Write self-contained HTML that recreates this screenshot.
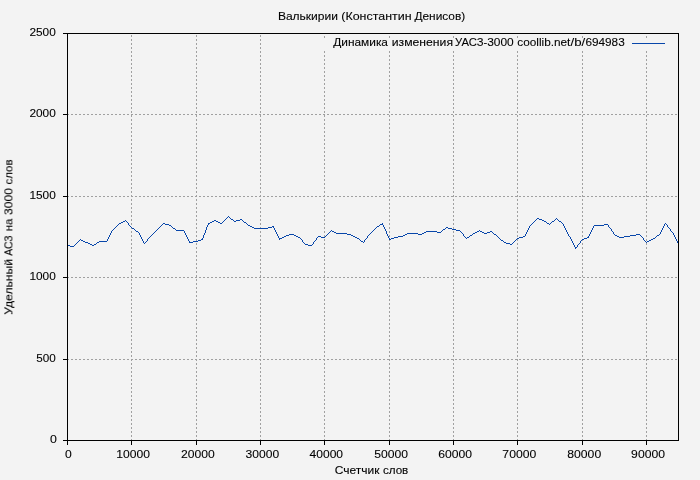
<!DOCTYPE html>
<html lang="ru">
<head>
<meta charset="utf-8">
<title>Валькирии (Константин Денисов)</title>
<style>
html,body{margin:0;padding:0;background:#f3f3f3;}
body{width:700px;height:480px;overflow:hidden;will-change:transform;}
svg{display:block;}
text{font-family:"Liberation Sans",sans-serif;font-size:11.4px;fill:#000;stroke:#000;stroke-width:.1px;}
g.t{filter:grayscale(1);}
text.d{font-size:11.1px;}
</style>
</head>
<body>
<svg width="700" height="480" viewBox="0 0 700 480">
<rect x="0" y="0" width="700" height="480" fill="#f3f3f3"/>
<g shape-rendering="crispEdges" stroke="#a0a0a0" stroke-width="1" stroke-dasharray="2 2" fill="none">
<line x1="131.5" y1="441" x2="131.5" y2="34"/>
<line x1="196.5" y1="441" x2="196.5" y2="34"/>
<line x1="260.5" y1="441" x2="260.5" y2="34"/>
<line x1="324.5" y1="441" x2="324.5" y2="34"/>
<line x1="389.5" y1="441" x2="389.5" y2="34"/>
<line x1="453.5" y1="441" x2="453.5" y2="34"/>
<line x1="517.5" y1="441" x2="517.5" y2="34"/>
<line x1="582.5" y1="441" x2="582.5" y2="34"/>
<line x1="646.5" y1="441" x2="646.5" y2="34"/>
<line x1="67" y1="359.5" x2="678" y2="359.5"/>
<line x1="67" y1="277.5" x2="678" y2="277.5"/>
<line x1="67" y1="196.5" x2="678" y2="196.5"/>
<line x1="67" y1="114.5" x2="678" y2="114.5"/>
</g>
<rect x="300" y="34" width="376" height="17" fill="#f3f3f3"/>
<path shape-rendering="crispEdges" fill="#a0a0a0" d="M324 36h1v2h-1zM389 36h1v2h-1zM453 36h1v2h-1zM517 36h1v2h-1zM582 36h1v2h-1zM646 36h1v2h-1z"/>
<path fill="#0846aa" shape-rendering="crispEdges" d="M228 216h1v1h-1zM227 217h1v1h-1zM229 217h1v1h-1zM226 218h1v1h-1zM230 218h1v1h-1zM537 218h2v1h-2zM556 218h1v1h-1zM225 219h1v1h-1zM231 219h2v1h-2zM240 219h2v1h-2zM536 219h1v1h-1zM539 219h3v1h-3zM555 219h1v1h-1zM557 219h1v1h-1zM125 220h1v1h-1zM214 220h2v1h-2zM224 220h1v1h-1zM233 220h1v1h-1zM236 220h4v1h-4zM242 220h1v1h-1zM535 220h1v1h-1zM542 220h2v1h-2zM554 220h1v1h-1zM558 220h1v1h-1zM123 221h2v1h-2zM126 221h1v1h-1zM212 221h2v1h-2zM216 221h2v1h-2zM223 221h1v1h-1zM234 221h2v1h-2zM243 221h1v1h-1zM534 221h1v1h-1zM544 221h2v1h-2zM552 221h2v1h-2zM559 221h2v1h-2zM121 222h2v1h-2zM127 222h1v1h-1zM210 222h2v1h-2zM218 222h2v1h-2zM222 222h1v1h-1zM244 222h2v1h-2zM533 222h1v1h-1zM546 222h1v1h-1zM551 222h1v1h-1zM561 222h1v1h-1zM119 223h2v1h-2zM128 223h1v1h-1zM163 223h2v1h-2zM208 223h2v1h-2zM220 223h2v1h-2zM246 223h1v1h-1zM382 223h1v1h-1zM532 223h1v1h-1zM547 223h2v1h-2zM550 223h1v1h-1zM562 223h1v1h-1zM665 223h1v1h-1zM118 224h1v1h-1zM128 224h1v1h-1zM162 224h1v1h-1zM165 224h4v1h-4zM208 224h1v1h-1zM247 224h1v1h-1zM380 224h3v1h-3zM531 224h1v1h-1zM549 224h1v1h-1zM563 224h1v1h-1zM604 224h4v1h-4zM664 224h1v1h-1zM666 224h1v1h-1zM117 225h1v1h-1zM129 225h1v1h-1zM161 225h1v1h-1zM169 225h2v1h-2zM207 225h1v1h-1zM248 225h2v1h-2zM379 225h1v1h-1zM383 225h1v1h-1zM530 225h1v1h-1zM563 225h1v1h-1zM594 225h10v1h-10zM608 225h1v1h-1zM664 225h1v1h-1zM667 225h1v1h-1zM116 226h1v1h-1zM130 226h1v1h-1zM160 226h1v1h-1zM171 226h1v1h-1zM207 226h1v1h-1zM250 226h2v1h-2zM272 226h2v1h-2zM377 226h2v1h-2zM383 226h1v1h-1zM529 226h1v1h-1zM564 226h1v1h-1zM593 226h1v1h-1zM608 226h1v1h-1zM663 226h1v1h-1zM667 226h1v1h-1zM115 227h1v1h-1zM131 227h1v1h-1zM159 227h1v1h-1zM172 227h1v1h-1zM206 227h1v1h-1zM252 227h2v1h-2zM268 227h4v1h-4zM273 227h1v1h-1zM376 227h1v1h-1zM384 227h1v1h-1zM446 227h2v1h-2zM529 227h1v1h-1zM564 227h1v1h-1zM593 227h1v1h-1zM609 227h1v1h-1zM663 227h1v1h-1zM668 227h1v1h-1zM114 228h1v1h-1zM132 228h2v1h-2zM158 228h1v1h-1zM173 228h2v1h-2zM206 228h1v1h-1zM254 228h14v1h-14zM274 228h1v1h-1zM375 228h1v1h-1zM384 228h1v1h-1zM445 228h1v1h-1zM448 228h4v1h-4zM528 228h1v1h-1zM565 228h1v1h-1zM592 228h1v1h-1zM610 228h1v1h-1zM662 228h1v1h-1zM669 228h1v1h-1zM113 229h1v1h-1zM134 229h1v1h-1zM157 229h1v1h-1zM175 229h1v1h-1zM206 229h1v1h-1zM274 229h1v1h-1zM374 229h1v1h-1zM385 229h1v1h-1zM443 229h2v1h-2zM452 229h4v1h-4zM528 229h1v1h-1zM565 229h1v1h-1zM592 229h1v1h-1zM611 229h1v1h-1zM662 229h1v1h-1zM670 229h1v1h-1zM112 230h1v1h-1zM135 230h1v1h-1zM156 230h1v1h-1zM176 230h8v1h-8zM205 230h1v1h-1zM275 230h1v1h-1zM331 230h1v1h-1zM373 230h1v1h-1zM385 230h1v1h-1zM442 230h1v1h-1zM456 230h4v1h-4zM479 230h1v1h-1zM527 230h1v1h-1zM566 230h1v1h-1zM591 230h1v1h-1zM611 230h1v1h-1zM661 230h1v1h-1zM670 230h1v1h-1zM111 231h1v1h-1zM136 231h2v1h-2zM155 231h1v1h-1zM184 231h1v1h-1zM205 231h1v1h-1zM275 231h1v1h-1zM330 231h1v1h-1zM332 231h2v1h-2zM372 231h1v1h-1zM386 231h1v1h-1zM426 231h11v1h-11zM441 231h1v1h-1zM460 231h1v1h-1zM477 231h2v1h-2zM480 231h2v1h-2zM490 231h2v1h-2zM527 231h1v1h-1zM566 231h1v1h-1zM591 231h1v1h-1zM612 231h1v1h-1zM661 231h1v1h-1zM671 231h1v1h-1zM111 232h1v1h-1zM138 232h1v1h-1zM154 232h1v1h-1zM184 232h1v1h-1zM205 232h1v1h-1zM276 232h1v1h-1zM329 232h1v1h-1zM334 232h2v1h-2zM371 232h1v1h-1zM386 232h1v1h-1zM424 232h2v1h-2zM437 232h4v1h-4zM461 232h1v1h-1zM475 232h2v1h-2zM482 232h2v1h-2zM487 232h3v1h-3zM492 232h1v1h-1zM526 232h1v1h-1zM567 232h1v1h-1zM590 232h1v1h-1zM613 232h1v1h-1zM660 232h1v1h-1zM672 232h1v1h-1zM110 233h1v1h-1zM139 233h1v1h-1zM153 233h1v1h-1zM185 233h1v1h-1zM204 233h1v1h-1zM276 233h1v1h-1zM328 233h1v1h-1zM336 233h11v1h-11zM370 233h1v1h-1zM386 233h1v1h-1zM407 233h11v1h-11zM422 233h2v1h-2zM462 233h1v1h-1zM473 233h2v1h-2zM484 233h3v1h-3zM493 233h1v1h-1zM526 233h1v1h-1zM567 233h1v1h-1zM590 233h1v1h-1zM613 233h1v1h-1zM660 233h1v1h-1zM673 233h1v1h-1zM110 234h1v1h-1zM139 234h1v1h-1zM152 234h1v1h-1zM185 234h1v1h-1zM204 234h1v1h-1zM277 234h1v1h-1zM289 234h5v1h-5zM327 234h1v1h-1zM347 234h4v1h-4zM369 234h1v1h-1zM387 234h1v1h-1zM405 234h2v1h-2zM418 234h4v1h-4zM463 234h1v1h-1zM472 234h1v1h-1zM494 234h2v1h-2zM525 234h1v1h-1zM568 234h1v1h-1zM589 234h1v1h-1zM614 234h1v1h-1zM636 234h4v1h-4zM659 234h1v1h-1zM673 234h1v1h-1zM109 235h1v1h-1zM140 235h1v1h-1zM151 235h1v1h-1zM186 235h1v1h-1zM203 235h1v1h-1zM277 235h1v1h-1zM286 235h3v1h-3zM294 235h2v1h-2zM326 235h1v1h-1zM351 235h2v1h-2zM368 235h1v1h-1zM387 235h1v1h-1zM403 235h2v1h-2zM463 235h1v1h-1zM470 235h2v1h-2zM496 235h1v1h-1zM525 235h1v1h-1zM568 235h1v1h-1zM589 235h1v1h-1zM615 235h2v1h-2zM630 235h6v1h-6zM640 235h1v1h-1zM657 235h2v1h-2zM674 235h1v1h-1zM109 236h1v1h-1zM140 236h1v1h-1zM150 236h1v1h-1zM186 236h1v1h-1zM203 236h1v1h-1zM278 236h1v1h-1zM284 236h2v1h-2zM296 236h2v1h-2zM318 236h3v1h-3zM325 236h1v1h-1zM353 236h2v1h-2zM367 236h1v1h-1zM388 236h1v1h-1zM398 236h5v1h-5zM464 236h1v1h-1zM469 236h1v1h-1zM497 236h1v1h-1zM523 236h2v1h-2zM569 236h1v1h-1zM588 236h1v1h-1zM617 236h2v1h-2zM624 236h6v1h-6zM641 236h1v1h-1zM656 236h1v1h-1zM674 236h1v1h-1zM108 237h1v1h-1zM141 237h1v1h-1zM149 237h1v1h-1zM187 237h1v1h-1zM203 237h1v1h-1zM278 237h1v1h-1zM282 237h2v1h-2zM298 237h2v1h-2zM317 237h1v1h-1zM321 237h4v1h-4zM355 237h2v1h-2zM367 237h1v1h-1zM388 237h1v1h-1zM394 237h4v1h-4zM465 237h1v1h-1zM467 237h2v1h-2zM498 237h1v1h-1zM519 237h4v1h-4zM570 237h1v1h-1zM587 237h2v1h-2zM619 237h5v1h-5zM642 237h1v1h-1zM655 237h1v1h-1zM675 237h1v1h-1zM108 238h1v1h-1zM141 238h1v1h-1zM148 238h1v1h-1zM187 238h1v1h-1zM202 238h1v1h-1zM279 238h3v1h-3zM300 238h1v1h-1zM316 238h1v1h-1zM357 238h2v1h-2zM366 238h1v1h-1zM389 238h1v1h-1zM391 238h3v1h-3zM466 238h1v1h-1zM499 238h1v1h-1zM517 238h2v1h-2zM570 238h1v1h-1zM584 238h3v1h-3zM643 238h1v1h-1zM653 238h2v1h-2zM675 238h1v1h-1zM80 239h1v1h-1zM107 239h1v1h-1zM142 239h1v1h-1zM147 239h1v1h-1zM188 239h1v1h-1zM201 239h2v1h-2zM279 239h1v1h-1zM301 239h1v1h-1zM316 239h1v1h-1zM359 239h1v1h-1zM365 239h1v1h-1zM389 239h2v1h-2zM500 239h1v1h-1zM516 239h1v1h-1zM571 239h1v1h-1zM582 239h2v1h-2zM643 239h1v1h-1zM651 239h2v1h-2zM676 239h1v1h-1zM79 240h1v1h-1zM81 240h2v1h-2zM107 240h1v1h-1zM142 240h1v1h-1zM147 240h1v1h-1zM188 240h1v1h-1zM198 240h3v1h-3zM302 240h1v1h-1zM315 240h1v1h-1zM360 240h1v1h-1zM364 240h1v1h-1zM501 240h2v1h-2zM515 240h1v1h-1zM571 240h1v1h-1zM581 240h1v1h-1zM644 240h1v1h-1zM649 240h2v1h-2zM676 240h1v1h-1zM78 241h1v1h-1zM83 241h2v1h-2zM99 241h8v1h-8zM143 241h1v1h-1zM146 241h1v1h-1zM189 241h1v1h-1zM193 241h5v1h-5zM302 241h1v1h-1zM314 241h1v1h-1zM361 241h2v1h-2zM364 241h1v1h-1zM503 241h1v1h-1zM514 241h1v1h-1zM572 241h1v1h-1zM580 241h1v1h-1zM645 241h1v1h-1zM647 241h2v1h-2zM677 241h1v1h-1zM77 242h1v1h-1zM85 242h3v1h-3zM97 242h2v1h-2zM143 242h1v1h-1zM145 242h1v1h-1zM189 242h4v1h-4zM303 242h1v1h-1zM313 242h1v1h-1zM363 242h1v1h-1zM504 242h2v1h-2zM513 242h1v1h-1zM572 242h1v1h-1zM580 242h1v1h-1zM646 242h1v1h-1zM677 242h1v1h-1zM76 243h1v1h-1zM88 243h2v1h-2zM96 243h1v1h-1zM144 243h1v1h-1zM304 243h1v1h-1zM313 243h1v1h-1zM506 243h4v1h-4zM512 243h1v1h-1zM573 243h1v1h-1zM579 243h1v1h-1zM678 243h1v1h-1zM75 244h1v1h-1zM90 244h2v1h-2zM94 244h2v1h-2zM305 244h3v1h-3zM312 244h1v1h-1zM510 244h2v1h-2zM573 244h1v1h-1zM578 244h1v1h-1zM678 244h1v1h-1zM67 245h3v1h-3zM74 245h1v1h-1zM92 245h2v1h-2zM308 245h4v1h-4zM574 245h1v1h-1zM577 245h1v1h-1zM70 246h4v1h-4zM574 246h1v1h-1zM577 246h1v1h-1zM575 247h2v1h-2zM575 248h1v1h-1z"/>
<line x1="632" y1="43.5" x2="665" y2="43.5" stroke="#0846aa" stroke-width="1" shape-rendering="crispEdges"/>
<g shape-rendering="crispEdges" stroke="#000" stroke-width="1" fill="none">
<rect x="67.5" y="33.5" width="611" height="407"/>
<line x1="67.5" y1="441" x2="67.5" y2="445"/>
<line x1="131.5" y1="441" x2="131.5" y2="445"/>
<line x1="196.5" y1="441" x2="196.5" y2="445"/>
<line x1="260.5" y1="441" x2="260.5" y2="445"/>
<line x1="324.5" y1="441" x2="324.5" y2="445"/>
<line x1="389.5" y1="441" x2="389.5" y2="445"/>
<line x1="453.5" y1="441" x2="453.5" y2="445"/>
<line x1="517.5" y1="441" x2="517.5" y2="445"/>
<line x1="582.5" y1="441" x2="582.5" y2="445"/>
<line x1="646.5" y1="441" x2="646.5" y2="445"/>
<line x1="63" y1="440.5" x2="67" y2="440.5"/>
<line x1="63" y1="359.5" x2="67" y2="359.5"/>
<line x1="63" y1="277.5" x2="67" y2="277.5"/>
<line x1="63" y1="196.5" x2="67" y2="196.5"/>
<line x1="63" y1="114.5" x2="67" y2="114.5"/>
<line x1="63" y1="33.5" x2="67" y2="33.5"/>
</g>
<g class="t">
<text x="277.91" y="20.00" textLength="60.02" lengthAdjust="spacingAndGlyphs">Валькирии</text>
<text x="341.33" y="20.00" textLength="70.23" lengthAdjust="spacingAndGlyphs">(Константин</text>
<text x="414.41" y="20.00" textLength="50.83" lengthAdjust="spacingAndGlyphs">Денисов)</text>
<text x="333.21" y="46.00" textLength="54.79" lengthAdjust="spacingAndGlyphs">Динамика</text>
<text x="391.75" y="46.00" textLength="61.29" lengthAdjust="spacingAndGlyphs">изменения</text>
<text x="455.01" y="46.00" textLength="32.17" lengthAdjust="spacingAndGlyphs">УАСЗ-</text>
<text x="487.15" y="46.00" textLength="26.52" lengthAdjust="spacingAndGlyphs">3000</text>
<text x="517.30" y="46.00" textLength="53.09" lengthAdjust="spacingAndGlyphs">coollib.net</text>
<text x="570.60" y="46.00" textLength="14.70" lengthAdjust="spacingAndGlyphs">/b/</text>
<text x="585.40" y="46.00" textLength="39.32" lengthAdjust="spacingAndGlyphs">694983</text>
<text x="50.12" y="443.00" textLength="6.86" lengthAdjust="spacingAndGlyphs" class="d">0</text>
<text x="36.23" y="362.00" textLength="19.53" lengthAdjust="spacingAndGlyphs" class="d">500</text>
<text x="29.40" y="280.00" textLength="26.36" lengthAdjust="spacingAndGlyphs" class="d">1000</text>
<text x="29.40" y="199.00" textLength="26.36" lengthAdjust="spacingAndGlyphs" class="d">1500</text>
<text x="29.40" y="117.00" textLength="26.36" lengthAdjust="spacingAndGlyphs" class="d">2000</text>
<text x="29.40" y="36.00" textLength="26.36" lengthAdjust="spacingAndGlyphs" class="d">2500</text>
<text x="65.03" y="458.00" textLength="6.75" lengthAdjust="spacingAndGlyphs" class="d">0</text>
<text x="116.39" y="458.00" textLength="33.68" lengthAdjust="spacingAndGlyphs" class="d">10000</text>
<text x="181.09" y="458.00" textLength="33.68" lengthAdjust="spacingAndGlyphs" class="d">20000</text>
<text x="245.64" y="458.00" textLength="33.53" lengthAdjust="spacingAndGlyphs" class="d">30000</text>
<text x="309.62" y="458.00" textLength="33.45" lengthAdjust="spacingAndGlyphs" class="d">40000</text>
<text x="374.31" y="458.00" textLength="33.76" lengthAdjust="spacingAndGlyphs" class="d">50000</text>
<text x="438.28" y="458.00" textLength="33.79" lengthAdjust="spacingAndGlyphs" class="d">60000</text>
<text x="502.37" y="458.00" textLength="33.90" lengthAdjust="spacingAndGlyphs" class="d">70000</text>
<text x="567.27" y="458.00" textLength="33.91" lengthAdjust="spacingAndGlyphs" class="d">80000</text>
<text x="631.13" y="458.00" textLength="33.85" lengthAdjust="spacingAndGlyphs" class="d">90000</text>
<text x="334.80" y="474.00" textLength="44.64" lengthAdjust="spacingAndGlyphs">Счетчик</text>
<text x="382.90" y="474.00" textLength="25.41" lengthAdjust="spacingAndGlyphs">слов</text>
<g transform="translate(12.4,320.0) rotate(-90)">
<text x="5.18" y="0.00" textLength="55.94" lengthAdjust="spacingAndGlyphs">Удельный</text>
<text x="64.28" y="0.00" textLength="20.32" lengthAdjust="spacingAndGlyphs">АСЗ</text>
<text x="88.71" y="0.00" textLength="12.59" lengthAdjust="spacingAndGlyphs">на</text>
<text x="105.14" y="0.00" textLength="26.73" lengthAdjust="spacingAndGlyphs">3000</text>
<text x="135.61" y="0.00" textLength="24.89" lengthAdjust="spacingAndGlyphs">слов</text>
</g>
</g>
</svg>
</body>
</html>
